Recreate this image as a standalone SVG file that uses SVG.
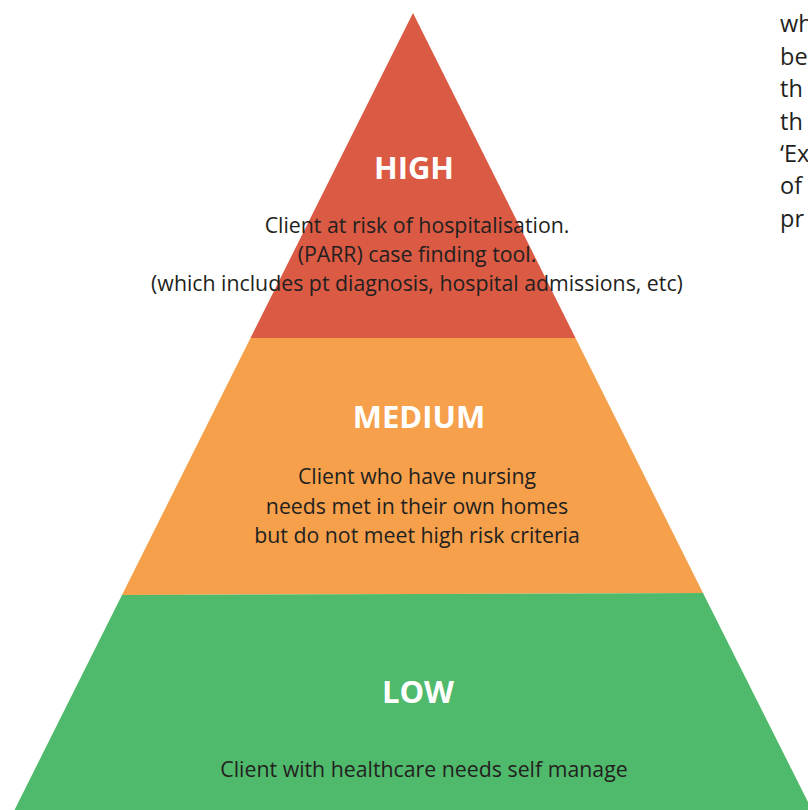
<svg xmlns="http://www.w3.org/2000/svg" width="808" height="810" viewBox="0 0 808 810">
  <style>
    .title { font-family: "Open Sans", "Noto Sans", "Liberation Sans", sans-serif; font-weight: 700; font-size: 31px; fill: #ffffff; text-anchor: middle; }
    .body { font-family: "Open Sans", "Noto Sans", "Liberation Sans", sans-serif; font-size: 21.3px; fill: #231f20; text-anchor: middle; }
    .side { font-family: "Open Sans", "Noto Sans", "Liberation Sans", sans-serif; font-size: 23.5px; fill: #231f20; }
  </style>
  <rect width="808" height="810" fill="#ffffff"/>

  <!-- top tier -->
  <g id="tier-high">
    <polygon points="413,13 575.5,338 250.5,338" fill="#da5a43"/>
    <text class="title" x="414" y="179">HIGH</text>
    <text class="body" x="417" y="233">Client at risk of hospitalisation.</text>
    <text class="body" x="417" y="262">(PARR) case finding tool.</text>
    <text class="body" x="417" y="291">(which includes pt diagnosis, hospital admissions, etc)</text>
  </g>

  <!-- middle tier -->
  <g id="tier-medium">
    <polygon points="250.5,338 575.5,338 703,593 122,595" fill="#f6a04b"/>
    <text class="title" x="419" y="428">MEDIUM</text>
    <text class="body" x="417" y="484">Client who have nursing</text>
    <text class="body" x="417" y="514">needs met in their own homes</text>
    <text class="body" x="417" y="543">but do not meet high risk criteria</text>
  </g>

  <!-- bottom tier -->
  <g id="tier-low">
    <polygon points="122,595 703,593 812,810 14.5,810" fill="#4fba6b"/>
    <text class="title" x="418" y="703">LOW</text>
    <text class="body" x="424" y="777">Client with healthcare needs self manage</text>
  </g>

  <!-- running text at the right margin -->
  <g id="side-text">
    <text class="side" x="780" y="32">wh</text>
    <text class="side" x="780" y="64.5">be</text>
    <text class="side" x="780" y="97">th</text>
    <text class="side" x="780" y="129.5">th</text>
    <text class="side" x="780" y="162">‘Ex</text>
    <text class="side" x="780" y="194">of</text>
    <text class="side" x="780" y="227">pr</text>
  </g>
</svg>
